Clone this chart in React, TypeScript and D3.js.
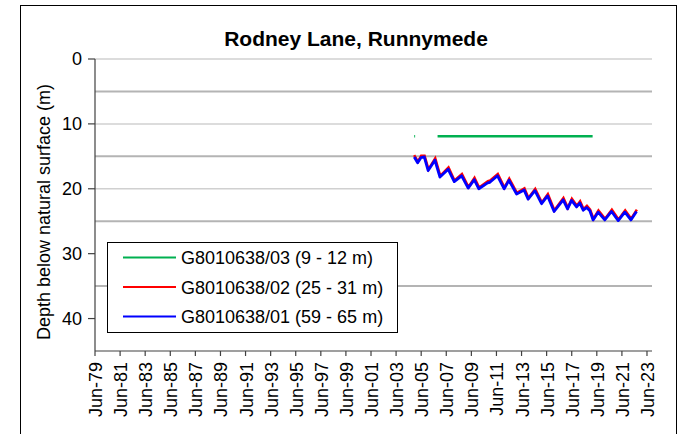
import React from "react";
import * as d3 from "d3";

const title = "Rodney Lane, Runnymede";
const yLabel = "Depth below natural surface (m)";
const yTicks = [0, 10, 20, 30, 40];
const lightGrid = [0, 10, 20];
const darkGrid = [5, 15, 25, 35];
const tickYears = [1979, 1981, 1983, 1985, 1987, 1989, 1991, 1993, 1995, 1997, 1999, 2001, 2003, 2005, 2007, 2009, 2011, 2013, 2015, 2017, 2019, 2021, 2023];

const seriesNames = ["G8010638/03 (9 - 12 m)", "G8010638/02 (25 - 31 m)", "G8010638/01 (59 - 65 m)"];
const seriesColors = ["#00b050", "#ff0000", "#0000ff"];

// G8010638/03 (null = gap)
const greenYears = [2004.86, 2004.93, 2005.5, 2006.72, 2019.08];
const greenDepth: (number | null)[] = [11.9, 11.9, null, 11.9, 11.9];

// G8010638/02
const redYears = [2004.83, 2005.13, 2005.39, 2005.66, 2005.97, 2006.51, 2006.91, 2007.57, 2008.05, 2008.64, 2009.16, 2009.64, 2010.01, 2010.71, 2010.89, 2011.5, 2012.03, 2012.41, 2013.02, 2013.62, 2013.94, 2014.48, 2015.01, 2015.49, 2016.01, 2016.73, 2017.08, 2017.4, 2017.8, 2018.06, 2018.33, 2018.6, 2018.86, 2019.12, 2019.52, 2020.05, 2020.59, 2021.12, 2021.65, 2022.13, 2022.58];
const redDepth = [14.9, 15.9, 15.0, 15.0, 17.1, 15.4, 18.1, 16.8, 18.8, 17.8, 19.8, 18.4, 19.9, 18.9, 18.8, 17.8, 19.9, 18.5, 20.7, 20.0, 21.5, 20.1, 22.2, 20.9, 23.4, 21.5, 23.0, 21.6, 22.7, 22.0, 23.2, 22.7, 23.3, 24.7, 23.4, 24.7, 23.3, 24.8, 23.4, 24.7, 23.3];

// G8010638/01
const blueYears = [2004.86, 2005.13, 2005.39, 2005.66, 2005.97, 2006.51, 2006.91, 2007.57, 2008.05, 2008.64, 2009.16, 2009.64, 2010.01, 2010.71, 2010.89, 2011.5, 2012.03, 2012.41, 2013.02, 2013.62, 2013.94, 2014.48, 2015.01, 2015.49, 2016.01, 2016.73, 2017.08, 2017.4, 2017.8, 2018.06, 2018.33, 2018.6, 2018.86, 2019.12, 2019.52, 2020.05, 2020.59, 2021.12, 2021.65, 2022.13, 2022.58];
const blueDepth = [15.1, 16.0, 15.2, 15.1, 17.2, 15.6, 18.2, 17.0, 18.9, 18.0, 19.9, 18.6, 20.0, 19.1, 19.0, 18.0, 20.0, 18.7, 20.8, 20.2, 21.6, 20.3, 22.3, 21.1, 23.5, 21.7, 23.1, 21.8, 22.8, 22.2, 23.3, 22.9, 23.4, 24.8, 23.6, 24.8, 23.5, 24.9, 23.6, 24.8, 23.5];

const FONT = "'Liberation Sans', Arial, sans-serif";

function yearToDate(y: number): Date {
  const yr = Math.floor(y);
  const start = new Date(yr, 0, 1).getTime();
  const end = new Date(yr + 1, 0, 1).getTime();
  return new Date(start + (y - yr) * (end - start));
}

export default function App() {
  const W = 682;
  const H = 434;
  const left = 95;
  const right = 652;
  const top = 59;
  const bottom = 351;

  const x = d3.scaleTime().domain([new Date(1979, 5, 1), new Date(2023, 9, 25)]).range([left, right]);
  const y = d3.scaleLinear().domain([0, 45]).range([top, bottom]);

  type P = { d: Date; v: number | null };
  const line = d3
    .line<P>()
    .defined((p) => p.v !== null)
    .x((p) => x(p.d))
    .y((p) => y(p.v as number));

  const mk = (ys: number[], vs: (number | null)[]): P[] => ys.map((yy, i) => ({ d: yearToDate(yy), v: vs[i] }));

  const green = mk(greenYears, greenDepth);
  const red = mk(redYears, redDepth);
  const blue = mk(blueYears, blueDepth);
  const fmt = d3.timeFormat("%b-%y");

  return (
    <svg width={W} height={H} style={{ position: "absolute", left: 0, top: 0, background: "#fff" }} fontFamily={FONT}>
      <rect x={20.5} y={5.5} width={656} height={429} fill="#fff" stroke="#000" strokeWidth={1} />
      <text x={356} y={46} textAnchor="middle" fontSize={21} fontWeight="bold" fill="#000">
        {title}
      </text>
      {lightGrid.map((g) => (
        <line key={"l" + g} x1={left} x2={right} y1={y(g)} y2={y(g)} stroke="#d0d0d0" strokeWidth={1.5} />
      ))}
      {darkGrid.map((g) => (
        <line key={"d" + g} x1={left} x2={right} y1={y(g)} y2={y(g)} stroke="#b4b4b4" strokeWidth={2} />
      ))}
      {/* axes */}
      <line x1={left} x2={left} y1={top} y2={bottom} stroke="#404040" strokeWidth={1.2} />
      <line x1={left} x2={right} y1={bottom} y2={bottom} stroke="#404040" strokeWidth={1.2} />
      {yTicks.map((t) => (
        <g key={"yt" + t}>
          <line x1={left - 7} x2={left} y1={y(t)} y2={y(t)} stroke="#404040" strokeWidth={1.2} />
          <text x={82} y={y(t) + 6} textAnchor="end" fontSize={18} fill="#000">
            {t}
          </text>
        </g>
      ))}
      {tickYears.map((yr) => {
        const d = new Date(yr, 5, 1);
        const xx = x(d);
        return (
          <g key={"xt" + yr}>
            <line x1={xx} x2={xx} y1={bottom} y2={bottom + 5} stroke="#404040" strokeWidth={1.2} />
            <text transform={`translate(${xx + 7},${362}) rotate(-90)`} textAnchor="end" fontSize={18} fill="#000">
              {fmt(d)}
            </text>
          </g>
        );
      })}
      <text transform={`translate(50,${(top + bottom) / 2 + 7}) rotate(-90)`} textAnchor="middle" fontSize={18} fill="#000">
        {yLabel}
      </text>
      {/* series */}
      <path d={line(green) || ""} fill="none" stroke={seriesColors[0]} strokeWidth={2.5} />
      <path d={line(red) || ""} fill="none" stroke={seriesColors[1]} strokeWidth={2.5} transform="translate(0.3,-0.5)" />
      <path d={line(blue) || ""} fill="none" stroke={seriesColors[2]} strokeWidth={2.8} strokeLinejoin="round" />
      {/* legend */}
      <rect x={107.5} y={242.5} width={290} height={90} fill="#fff" stroke="#000" strokeWidth={1} />
      {seriesNames.map((n, i) => {
        const ry = 257.5 + i * 29.5;
        return (
          <g key={n}>
            <line x1={123} x2={176} y1={ry} y2={ry} stroke={seriesColors[i]} strokeWidth={2} />
            <text x={181} y={ry + 6.5} fontSize={18} fill="#000">
              {n}
            </text>
          </g>
        );
      })}
    </svg>
  );
}
